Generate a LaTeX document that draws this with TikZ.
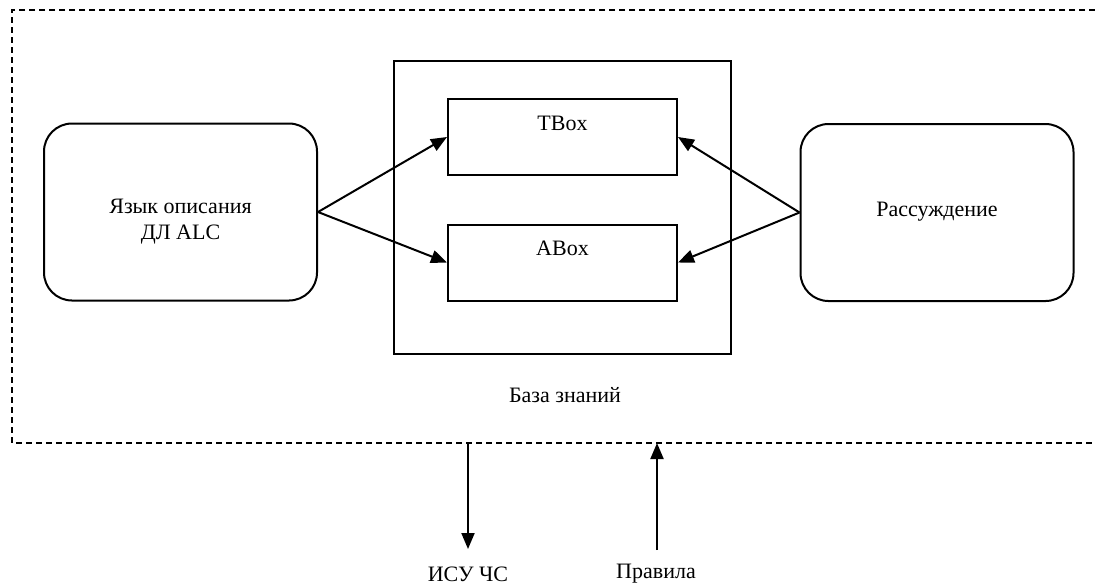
\documentclass[tikz,border=0pt]{standalone}
\usepackage{fontspec}
\setmainfont{Liberation Serif}
\usetikzlibrary{arrows.meta}
\begin{document}
\begin{tikzpicture}[x=0.5pt,y=-0.5pt,
  line width=1pt,
  every node/.style={font=\fontsize{11pt}{13pt}\selectfont},
  rbox/.style={draw,rounded corners=14pt,minimum width=136.5pt,minimum height=88.5pt,inner sep=0pt},
  sbox/.style={draw,minimum width=114.5pt,minimum height=38pt,inner sep=0pt},
  kbbox/.style={draw,minimum width=168.5pt,minimum height=146.5pt,inner sep=0pt},
  txt/.style={inner sep=0pt,align=center},
  arr/.style={-{Triangle[length=8pt,width=6.5pt]}},
  dashedframe/.style={dash pattern=on 3pt off 2pt, line width=0.75pt}
]
\useasboundingbox (0,0) rectangle (1095,585);
% dashed frame
\draw[dashedframe] (1095,10) -- (12,10) -- (12,443) -- (1095,443);
% boxes
\node[rbox] (lang) at (180.5,212) {};
\node[txt] (langt) at (180.5,222) {Язык описания\\ДЛ ALC};
\node[rbox] (reason) at (937,212.5) {};
\node[txt] (reasont) at (937,212) {Рассуждение};
\node[kbbox] (kb) at (562.5,207.5) {};
\node[sbox] (tbox) at (562.5,137) {};
\node[txt] (tboxt) at (562.5,123) {TBox};
\node[sbox] (abox) at (562.5,262.5) {};
\node[txt] (aboxt) at (562.5,248) {ABox};
\node[txt] (kbt) at (565,395) {База знаний};
% arrows
\draw[arr] (lang.east) -- (tbox.west);
\draw[arr] (lang.east) -- (abox.west);
\draw[arr] (reason.west) -- (tbox.east);
\draw[arr] (reason.west) -- (abox.east);
% bottom
\coordinate (outtop) at (468,443);
\coordinate (intop) at (657,443);
\coordinate (outend) at (468,549);
\coordinate (inend) at (657,550);
\node[txt] (isu) at (468,574) {ИСУ ЧС};
\node[txt] (rules) at (656,574) {Правила};
\draw[arr] (outtop) -- (outend);
\draw[arr] (inend) -- (intop);
\end{tikzpicture}
\end{document}
